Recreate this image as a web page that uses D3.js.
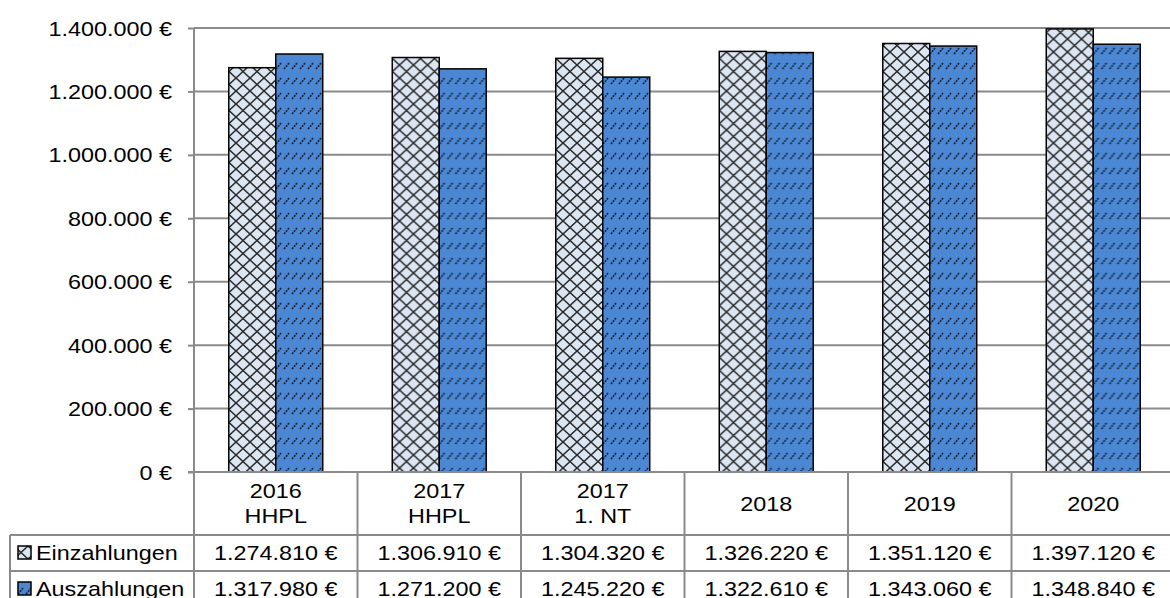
<!DOCTYPE html>
<html>
<head>
<meta charset="utf-8">
<script src="https://cdn.jsdelivr.net/npm/d3@7"></script>
<style>
  body { margin: 0; background: #fff; }
  svg { display: block; font-family: "Liberation Sans", Arial, sans-serif; }
</style>
</head>
<body>
<div id="main"></div>
<script>

var width = 1170,
    height = 598;

// data
var categories = [["2016", "HHPL"], ["2017", "HHPL"], ["2017", "1. NT"], ["2018"], ["2019"], ["2020"]];
var seriesNames = ["Einzahlungen", "Auszahlungen"];
var einzahlungen = [1274810, 1306910, 1304320, 1326220, 1351120, 1397120];
var auszahlungen = [1317980, 1271200, 1245220, 1322610, 1343060, 1348840];
var yTicks = [0, 200000, 400000, 600000, 800000, 1000000, 1200000, 1400000];

var FONT = 20,
    SX = 1.17;   // the reference text is stretched sideways
var GRID = "#8a8a8a";

var plotLeft = 194, plotRight = 1175, plotTop = 28, plotBottom = 472;
var headerBottom = 535, rowH = 36, tableLeft = 10;

var de = d3.formatLocale({decimal: ",", thousands: ".", grouping: [3], currency: ["", " €"]});
var fmt = function(v) { return de.format(",.0f")(v) + " €"; };

var svg = d3.select("#main").append("svg")
    .attr("width", width)
    .attr("height", height);

// patterns
var defs = svg.append("defs");

var p1 = defs.append("pattern")
    .attr("id", "pat-ein")
    .attr("patternUnits", "userSpaceOnUse")
    .attr("width", 14).attr("height", 13);
p1.append("rect").attr("width", 14).attr("height", 13).attr("fill", "#dce6f2");
p1.append("path").attr("d", "M0,0L14,13M14,0L0,13")
    .attr("stroke", "#2a2a2a").attr("stroke-width", 1.5).attr("fill", "none");

var p2 = defs.append("pattern")
    .attr("id", "pat-aus")
    .attr("patternUnits", "userSpaceOnUse")
    .attr("width", 8).attr("height", 15);
p2.append("rect").attr("width", 8).attr("height", 15).attr("fill", "#4b87d3");
p2.append("path").attr("d", "M2,9L7,3")
    .attr("stroke", "#10203a").attr("stroke-width", 1.6)
    .attr("stroke-dasharray", "2,1").attr("fill", "none");

var fills = ["url(#pat-ein)", "url(#pat-aus)"];
var values = [einzahlungen, auszahlungen];

var x0 = d3.scaleBand()
    .domain(d3.range(categories.length))
    .range([plotLeft, plotRight])
    .padding(0);

var x1 = d3.scaleBand()
    .domain(d3.range(seriesNames.length))
    .range([0, x0.bandwidth()])
    .paddingInner(0)
    .paddingOuter(0.74);

var y = d3.scaleLinear()
    .domain([0, 1400000])
    .range([plotBottom, plotTop]);

// grid
svg.append("g").selectAll("line")
    .data(yTicks.filter(function(d) { return d > 0; }))
    .enter().append("line")
    .attr("x1", plotLeft).attr("x2", width)
    .attr("y1", function(d) { return y(d); })
    .attr("y2", function(d) { return y(d); })
    .attr("stroke", GRID).attr("stroke-width", 2);

// y axis
var yAxis = svg.append("g")
    .attr("transform", `translate(${plotLeft},0)`)
    .call(d3.axisLeft(y).tickValues(yTicks).tickSize(6).tickFormat(fmt));
yAxis.select(".domain").remove();
yAxis.selectAll(".tick line").attr("stroke", GRID).attr("stroke-width", 2);
yAxis.selectAll(".tick text")
    .attr("font-size", FONT)
    .attr("fill", "#000")
    .attr("x", -22 / SX)
    .attr("dy", "0.35em")
    .attr("transform", `scale(${SX},1)`);

// bars
var groups = svg.append("g").selectAll("g")
    .data(categories)
    .enter().append("g")
    .attr("transform", function(d, i) { return `translate(${x0(i)},0)`; });

groups.selectAll("rect")
    .data(function(d, i) { return seriesNames.map(function(s, j) { return {j: j, v: values[j][i]}; }); })
    .enter().append("rect")
    .attr("x", function(d) { return x1(d.j); })
    .attr("width", x1.bandwidth())
    .attr("y", function(d) { return y(d.v); })
    .attr("height", function(d) { return plotBottom - y(d.v); })
    .attr("fill", function(d) { return fills[d.j]; })
    .attr("stroke", "#000")
    .attr("stroke-width", 1.5);

// table lines
var tbl = svg.append("g").attr("stroke", GRID).attr("stroke-width", 2);
tbl.append("line").attr("x1", plotLeft - 6).attr("x2", width).attr("y1", plotBottom).attr("y2", plotBottom);
tbl.append("line").attr("x1", plotLeft).attr("x2", plotLeft).attr("y1", plotTop).attr("y2", height);
tbl.selectAll(".v").data(d3.range(1, categories.length))
    .enter().append("line")
    .attr("x1", function(i) { return x0(i); }).attr("x2", function(i) { return x0(i); })
    .attr("y1", plotBottom).attr("y2", height);
tbl.selectAll(".h").data([0, 1])
    .enter().append("line")
    .attr("x1", tableLeft).attr("x2", width)
    .attr("y1", function(i) { return headerBottom + i * rowH; })
    .attr("y2", function(i) { return headerBottom + i * rowH; });
tbl.append("line").attr("x1", tableLeft).attr("x2", tableLeft).attr("y1", headerBottom).attr("y2", height);

function stretchedText(sel, x, yy, anchor) {
    return sel.append("text")
        .attr("transform", `translate(${x},${yy}) scale(${SX},1)`)
        .attr("text-anchor", anchor)
        .attr("dy", "0.35em")
        .attr("font-size", FONT)
        .attr("fill", "#000");
}

// header labels
var hdr = svg.append("g");
categories.forEach(function(lines, i) {
    var cx = x0(i) + x0.bandwidth() / 2;
    var mid = (plotBottom + headerBottom) / 2;
    lines.forEach(function(t, k) {
        var yy = mid + (k - (lines.length - 1) / 2) * 25;
        stretchedText(hdr, cx, yy, "middle").text(t);
    });
});

// data rows
var rows = svg.append("g");
seriesNames.forEach(function(name, j) {
    var cy = headerBottom + j * rowH + rowH / 2;
    rows.append("rect")
        .attr("x", 18).attr("y", cy - 7)
        .attr("width", 13).attr("height", 13)
        .attr("fill", fills[j])
        .attr("stroke", "#000").attr("stroke-width", 1.5);
    stretchedText(rows, 36, cy, "start").text(name);
    values[j].forEach(function(v, i) {
        stretchedText(rows, x0(i) + x0.bandwidth() / 2, cy, "middle").text(fmt(v));
    });
});

</script>
</body>
</html>
